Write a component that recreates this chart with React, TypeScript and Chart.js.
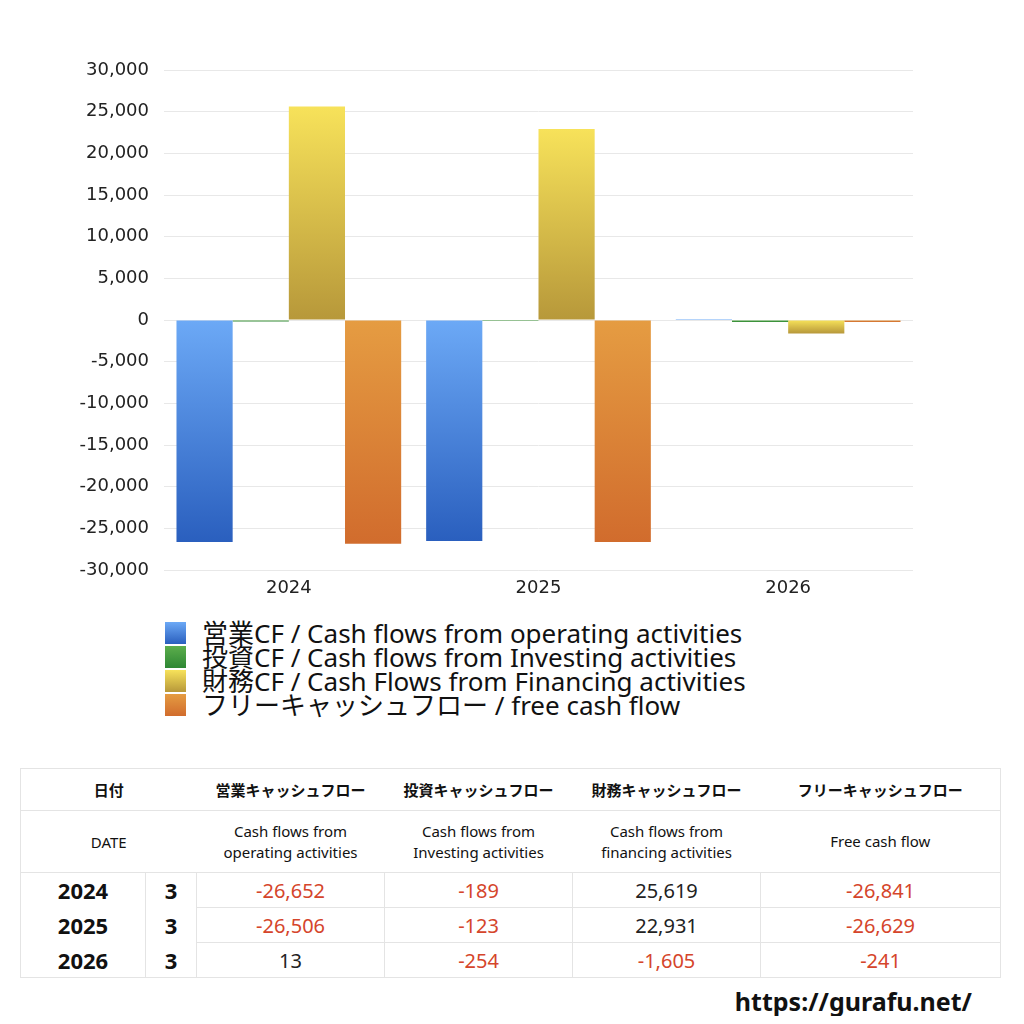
import { useEffect, useRef } from 'react';
import { Chart, registerables } from 'chart.js';

Chart.register(...registerables);

const years = ['2024', '2025', '2026'];
const months = [3, 3, 3];
const operating = [-26652, -26506, 13];
const investing = [-189, -123, -254];
const financing = [25619, 22931, -1605];
const freeCash = [-26841, -26629, -241];
const yTicks = [-30000, -25000, -20000, -15000, -10000, -5000, 0, 5000, 10000, 15000, 20000, 25000, 30000];

const seriesNames = [
  '営業CF / Cash flows from operating activities',
  '投資CF / Cash flows from Investing activities',
  '財務CF / Cash Flows from Financing activities',
  'フリーキャッシュフロー / free cash flow',
];
const headJa = ['営業キャッシュフロー', '投資キャッシュフロー', '財務キャッシュフロー', 'フリーキャッシュフロー'];
const headEn = [
  ['Cash flows from', 'operating activities'],
  ['Cash flows from', 'Investing activities'],
  ['Cash flows from', 'financing activities'],
  ['Free cash flow'],
];

// light (top) -> dark (bottom)
const palette = [
  ['#6ca9f6', '#2a5fbe'],
  ['#5cae4c', '#2e8734'],
  ['#f7e25a', '#b7983a'],
  ['#e59c42', '#d16c2d'],
];

const FONT = '"Noto Sans", "Noto Sans CJK JP", sans-serif';
const TICK_FONT = '"DejaVu Sans", sans-serif';

const fmt = (v: number) => v.toLocaleString('en-US');

const barFill = (idx: number) => (ctx: any) => {
  const chart = ctx.chart;
  const y = chart.scales?.y;
  if (!chart.chartArea || !y || ctx.raw === undefined) return palette[idx][0];
  const a = y.getPixelForValue(ctx.raw);
  const b = y.getPixelForValue(0);
  const top = Math.min(a, b);
  const bottom = Math.max(a, b) + 0.01;
  const g = chart.ctx.createLinearGradient(0, top, 0, bottom);
  g.addColorStop(0, palette[idx][0]);
  g.addColorStop(1, palette[idx][1]);
  return g;
};

function CashFlowChart() {
  const canvasRef = useRef<HTMLCanvasElement>(null);

  useEffect(() => {
    if (!canvasRef.current) return;
    const values = [operating, investing, financing, freeCash];
    const chart = new Chart(canvasRef.current, {
      type: 'bar',
      data: {
        labels: years,
        datasets: values.map((d, i) => ({
          label: seriesNames[i],
          data: d,
          backgroundColor: barFill(i),
          borderWidth: 0,
          categoryPercentage: 0.9,
          barPercentage: 1.0,
        })),
      },
      options: {
        animation: false,
        responsive: false,
        devicePixelRatio: 1,
        layout: { padding: { left: 0, right: 111, top: 70, bottom: 0 } },
        plugins: {
          legend: { display: false },
          tooltip: { enabled: false },
        },
        scales: {
          y: {
            min: -30000,
            max: 30000,
            afterFit: (s: any) => {
              s.width = 164;
            },
            afterBuildTicks: (s: any) => {
              s.ticks = yTicks.map((v) => ({ value: v }));
            },
            grid: { color: '#e8e8e8', drawTicks: false },
            border: { display: false },
            ticks: {
              padding: 15,
              color: '#222',
              font: { family: TICK_FONT, size: 18 },
              callback: (v: any) => fmt(Number(v)),
            },
          },
          x: {
            afterFit: (s: any) => {
              s.height = 40;
            },
            grid: { display: false, drawTicks: false },
            border: { display: false },
            ticks: {
              padding: 8,
              color: '#222',
              font: { family: TICK_FONT, size: 18 },
            },
          },
        },
      },
    });
    return () => chart.destroy();
  }, []);

  return <canvas ref={canvasRef} width={1024} height={610} style={{ position: 'absolute', left: 0, top: 0 }} />;
}

const line = '1px solid #e4e4e4';

export default function App() {
  const cell = (v: number) => (
    <span style={{ color: v < 0 ? '#d5452b' : '#222' }}>{fmt(v)}</span>
  );
  const rows = years.map((y, i) => [operating[i], investing[i], financing[i], freeCash[i]]);

  return (
    <div style={{ position: 'relative', width: 1024, height: 1024, margin: -8, background: '#fff', fontFamily: FONT }}>
      <CashFlowChart />

      <div style={{ position: 'absolute', left: 165, top: 621, color: '#111', fontSize: 26, lineHeight: '24px' }}>
        {seriesNames.map((n, i) => (
          <div key={n} style={{ display: 'flex', alignItems: 'center', height: 24, whiteSpace: 'nowrap' }}>
            <span
              style={{
                display: 'inline-block',
                width: 21,
                height: 22,
                marginRight: 16,
                background: `linear-gradient(${palette[i][0]}, ${palette[i][1]})`,
              }}
            />
            <span>{n}</span>
          </div>
        ))}
      </div>

      <table
        style={{
          position: 'absolute',
          left: 20,
          top: 768,
          width: 980,
          borderCollapse: 'collapse',
          tableLayout: 'fixed',
          color: '#111',
          textAlign: 'center',
          border: line,
        }}
      >
        <colgroup>
          <col style={{ width: 125 }} />
          <col style={{ width: 51 }} />
          <col style={{ width: 188 }} />
          <col style={{ width: 188 }} />
          <col style={{ width: 188 }} />
          <col style={{ width: 240 }} />
        </colgroup>
        <tbody>
          <tr style={{ height: 42, fontSize: 15, fontWeight: 'bold' }}>
            <td colSpan={2} style={{ padding: 0, borderBottom: line }}>日付</td>
            {headJa.map((h) => (
              <td key={h} style={{ padding: 0, borderBottom: line }}>{h}</td>
            ))}
          </tr>
          <tr style={{ height: 62, fontSize: 15 }}>
            <td colSpan={2} style={{ padding: 0, borderBottom: line }}>DATE</td>
            {headEn.map((h, i) => (
              <td key={i} style={{ padding: 0, borderBottom: line, lineHeight: '21px' }}>
                {h.map((t) => (
                  <div key={t}>{t}</div>
                ))}
              </td>
            ))}
          </tr>
          {rows.map((r, i) => (
            <tr key={years[i]} style={{ height: 35, fontSize: 20 }}>
              <td style={{ padding: 0, fontWeight: 'bold', fontSize: 22, borderRight: line }}>{years[i]}</td>
              <td style={{ padding: 0, fontWeight: 'bold', fontSize: 22, borderRight: line }}>{months[i]}</td>
              {r.map((v, j) => (
                <td
                  key={j}
                  style={{
                    padding: 0,
                    borderRight: line,
                    borderBottom: i < rows.length - 1 ? line : 'none',
                  }}
                >
                  {cell(v)}
                </td>
              ))}
            </tr>
          ))}
        </tbody>
      </table>

      <div
        style={{
          position: 'absolute',
          right: 52,
          top: 988,
          fontSize: 25,
          lineHeight: '26px',
          fontWeight: 'bold',
          color: '#111',
        }}
      >
        https://gurafu.net/
      </div>
    </div>
  );
}
